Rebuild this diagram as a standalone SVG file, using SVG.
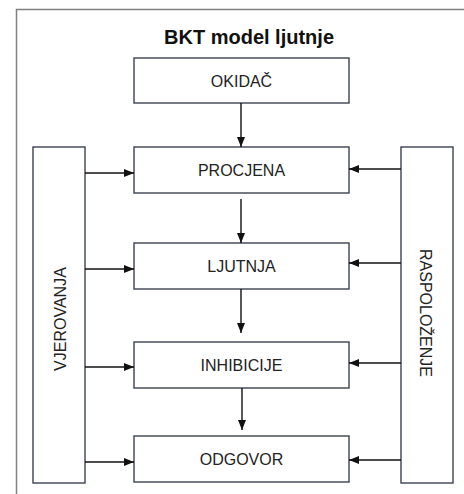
<svg xmlns="http://www.w3.org/2000/svg" width="464" height="494" viewBox="0 0 464 494">
<style>
.box{fill:#fff;stroke:#3c4250;stroke-width:1.4}
.lbl{font-family:"Liberation Sans",Arial,sans-serif;font-size:16px;fill:#222;text-anchor:middle}
.title{font-family:"Liberation Sans",Arial,sans-serif;font-size:20px;font-weight:bold;fill:#111;text-anchor:middle}
.con line{stroke:#111;stroke-width:1.4;marker-end:url(#ah)}
</style>
<defs>
<marker id="ah" viewBox="0 0 10 10" refX="10" refY="5" markerWidth="10" markerHeight="10" markerUnits="userSpaceOnUse" orient="auto">
<path d="M0,1 L10,5 L0,9 Z" fill="#111"/>
</marker>
</defs>
<rect width="464" height="494" fill="#fff"/>
<path d="M16.5,494 V9.5 H464" fill="none" stroke="#808080" stroke-width="1.5"/>
<text class="title" x="249" y="44">BKT model ljutnje</text>
<g id="okidac"><rect class="box" x="134" y="58" width="215" height="45"/><text class="lbl" x="241.5" y="87">OKIDAČ</text></g>
<g id="procjena"><rect class="box" x="134" y="147" width="215" height="46"/><text class="lbl" x="241.5" y="176">PROCJENA</text></g>
<g id="ljutnja"><rect class="box" x="134" y="243" width="215" height="46"/><text class="lbl" x="241.5" y="272">LJUTNJA</text></g>
<g id="inhibicije"><rect class="box" x="134" y="342" width="215" height="46"/><text class="lbl" x="241.5" y="371">INHIBICIJE</text></g>
<g id="odgovor"><rect class="box" x="134" y="436" width="215" height="46"/><text class="lbl" x="241.5" y="465">ODGOVOR</text></g>
<g id="vjerovanja"><rect class="box" x="33" y="147" width="52" height="336"/><text class="lbl" x="66" y="319" transform="rotate(-90 66 319)">VJEROVANJA</text></g>
<g id="raspolozenje"><rect class="box" x="401" y="147" width="52" height="336"/><text class="lbl" x="420" y="313" transform="rotate(90 420 313)">RASPOLOŽENJE</text></g>
<g class="con" id="connectors">
<line x1="241" y1="103" x2="241" y2="147"/>
<line x1="241" y1="199" x2="241" y2="243"/>
<line x1="241" y1="289" x2="241" y2="333"/>
<line x1="242" y1="388" x2="242" y2="430"/>
<line x1="85" y1="173" x2="134" y2="173"/>
<line x1="85" y1="269" x2="134" y2="269"/>
<line x1="85" y1="367" x2="134" y2="367"/>
<line x1="85" y1="462" x2="134" y2="462"/>
<line x1="401" y1="169" x2="349" y2="169"/>
<line x1="401" y1="263" x2="349" y2="263"/>
<line x1="401" y1="363" x2="349" y2="363"/>
<line x1="401" y1="460" x2="349" y2="460"/>
</g>
</svg>
